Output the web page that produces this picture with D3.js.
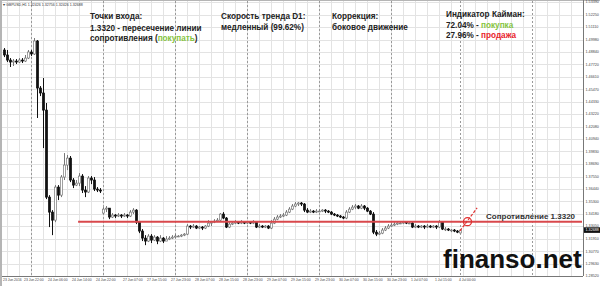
<!DOCTYPE html>
<html><head><meta charset="utf-8">
<script src="https://cdn.jsdelivr.net/npm/d3@7"></script>
<style>body{margin:0;background:#fff}svg{display:block}</style>
</head><body><svg id="c" width="600" height="286"></svg>
<script>
// ---------- DATA ----------
const symbolInfo = "GBPUSD,H1  1.32426 1.32756 1.32426 1.32688";
const opens = [1.4903,1.4858,1.4812,1.4794,1.4803,1.4794,1.4812,1.4803,1.4830,1.4885,
1.4867,1.4985,1.4558,1.4513,1.4358,1.3568,1.3432,1.3359,1.3659,1.3586,
1.3750,1.3859,1.3922,1.3723,1.3677,1.3695,1.3759,1.3632,1.3614,1.3741,
1.3723,1.3641,1.3632,1.3423,1.3459,1.3468,1.3387,1.3405,1.3396,1.3405,
1.3396,1.3405,1.3396,1.3432,1.3450,1.3341,1.3260,1.3196,1.3169,1.3214,
1.3178,1.3205,1.3169,1.3196,1.3169,1.3187,1.3196,1.3205,1.3214,1.3214,
1.3223,1.3232,1.3305,1.3296,1.3305,1.3287,1.3296,1.3287,1.3305,1.3332,
1.3341,1.3350,1.3359,1.3414,1.3378,1.3296,1.3323,1.3332,1.3341,1.3332,
1.3341,1.3332,1.3341,1.3332,1.3341,1.3296,1.3305,1.3296,1.3305,1.3287,
1.3332,1.3368,1.3387,1.3396,1.3405,1.3432,1.3459,1.3487,1.3505,1.3514,
1.3505,1.3450,1.3432,1.3441,1.3432,1.3441,1.3441,1.3450,1.3441,1.3432,
1.3414,1.3405,1.3396,1.3387,1.3378,1.3432,1.3459,1.3477,1.3487,1.3468,
1.3487,1.3468,1.3441,1.3414,1.3250,1.3232,1.3241,1.3269,1.3287,1.3305,
1.3314,1.3323,1.3332,1.3332,1.3341,1.3332,1.3332,1.3296,1.3305,1.3296,
1.3305,1.3296,1.3305,1.3296,1.3305,1.3296,1.3341,1.3278,1.3278,1.3269,
1.3269,1.3260,1.32426];
const highs = [1.4921,1.4903,1.4830,1.4821,1.4821,1.4830,1.4830,1.4858,1.4903,1.4903,
1.5012,1.4994,1.4576,1.4649,1.4422,1.3586,1.3450,1.3677,1.3677,1.3768,
1.3968,1.3950,1.3941,1.3741,1.3723,1.3786,1.3777,1.3668,1.3759,1.3759,
1.3750,1.3659,1.3650,1.3477,1.3487,1.3468,1.3423,1.3414,1.3423,1.3414,
1.3423,1.3414,1.3450,1.3468,1.3459,1.3350,1.3278,1.3223,1.3232,1.3232,
1.3223,1.3214,1.3223,1.3205,1.3214,1.3214,1.3223,1.3232,1.3223,1.3232,
1.3241,1.3323,1.3314,1.3323,1.3314,1.3305,1.3305,1.3314,1.3359,1.3350,
1.3368,1.3378,1.3423,1.3432,1.3387,1.3341,1.3350,1.3359,1.3350,1.3359,
1.3350,1.3350,1.3350,1.3359,1.3350,1.3323,1.3314,1.3314,1.3314,1.3359,
1.3387,1.3405,1.3414,1.3423,1.3450,1.3477,1.3505,1.3523,1.3523,1.3523,
1.3514,1.3468,1.3459,1.3450,1.3459,1.3459,1.3459,1.3459,1.3450,1.3441,
1.3423,1.3414,1.3405,1.3396,1.3450,1.3477,1.3496,1.3505,1.3496,1.3505,
1.3496,1.3477,1.3450,1.3432,1.3269,1.3260,1.3287,1.3305,1.3323,1.3332,
1.3341,1.3341,1.3350,1.3350,1.3350,1.3341,1.3341,1.3323,1.3314,1.3314,
1.3314,1.3323,1.3314,1.3314,1.3314,1.3359,1.3350,1.3296,1.3287,1.3278,
1.3278,1.3269,1.32756];
const lows = [1.4839,1.4794,1.4749,1.4758,1.4776,1.4785,1.4785,1.4794,1.4821,1.4849,
1.4858,1.4286,1.4485,1.4013,1.3550,1.3296,1.3223,1.3341,1.3541,1.3568,
1.3723,1.3813,1.3704,1.3650,1.3668,1.3668,1.3605,1.3568,1.3605,1.3686,
1.3623,1.3614,1.3605,1.3414,1.3432,1.3368,1.3378,1.3378,1.3387,1.3378,
1.3387,1.3378,1.3387,1.3414,1.3323,1.3241,1.3169,1.3132,1.3160,1.3151,
1.3169,1.3141,1.3160,1.3151,1.3169,1.3178,1.3187,1.3196,1.3205,1.3205,
1.3214,1.3223,1.3278,1.3287,1.3278,1.3278,1.3269,1.3278,1.3296,1.3305,
1.3332,1.3341,1.3350,1.3368,1.3287,1.3287,1.3314,1.3323,1.3323,1.3323,
1.3323,1.3323,1.3323,1.3323,1.3287,1.3287,1.3287,1.3287,1.3278,1.3278,
1.3323,1.3359,1.3378,1.3387,1.3396,1.3423,1.3450,1.3477,1.3487,1.3487,
1.3432,1.3423,1.3423,1.3423,1.3423,1.3432,1.3432,1.3423,1.3423,1.3405,
1.3396,1.3387,1.3378,1.3368,1.3368,1.3423,1.3450,1.3459,1.3459,1.3459,
1.3450,1.3432,1.3405,1.3232,1.3214,1.3223,1.3232,1.3260,1.3278,1.3296,
1.3305,1.3314,1.3323,1.3323,1.3323,1.3323,1.3287,1.3287,1.3287,1.3287,
1.3278,1.3287,1.3287,1.3287,1.3278,1.3287,1.3269,1.3260,1.3260,1.3250,
1.3250,1.3241,1.32426];
const closes = [1.4858,1.4812,1.4794,1.4803,1.4794,1.4812,1.4803,1.4830,1.4885,1.4867,
1.4985,1.4558,1.4513,1.4358,1.3568,1.3432,1.3359,1.3659,1.3586,1.3750,
1.3859,1.3922,1.3723,1.3677,1.3695,1.3759,1.3632,1.3614,1.3741,1.3723,
1.3641,1.3632,1.3623,1.3459,1.3468,1.3387,1.3405,1.3396,1.3405,1.3396,
1.3405,1.3396,1.3432,1.3450,1.3341,1.3260,1.3196,1.3169,1.3214,1.3178,
1.3205,1.3169,1.3196,1.3169,1.3187,1.3196,1.3205,1.3214,1.3214,1.3223,
1.3232,1.3305,1.3296,1.3305,1.3287,1.3296,1.3287,1.3305,1.3332,1.3341,
1.3350,1.3359,1.3414,1.3378,1.3296,1.3323,1.3332,1.3341,1.3332,1.3341,
1.3332,1.3341,1.3332,1.3341,1.3296,1.3305,1.3296,1.3305,1.3287,1.3332,
1.3368,1.3387,1.3396,1.3405,1.3432,1.3459,1.3487,1.3505,1.3514,1.3505,
1.3450,1.3432,1.3441,1.3432,1.3441,1.3441,1.3450,1.3441,1.3432,1.3414,
1.3405,1.3396,1.3387,1.3378,1.3432,1.3459,1.3477,1.3487,1.3468,1.3487,
1.3468,1.3441,1.3414,1.3250,1.3232,1.3241,1.3269,1.3287,1.3305,1.3314,
1.3323,1.3332,1.3332,1.3341,1.3332,1.3332,1.3296,1.3305,1.3296,1.3305,
1.3296,1.3305,1.3296,1.3305,1.3296,1.3341,1.3278,1.3278,1.3269,1.3269,
1.3260,1.3250,1.32688];

const priceTickLabels = ["1.53390","1.52250","1.51110","1.49980","1.48840","1.47720","1.46610","1.45470",
"1.44330","1.43220","1.42080","1.40940","1.39830","1.38690","1.37550","1.36440","1.35300","1.34180",
"1.33050","1.31910","1.30770","1.29630","1.28520"];
const timeTickLabels = ["23 Jun 2016","23 Jun 22:00","24 Jun 06:00","24 Jun 14:00","24 Jun 22:00",
"27 Jun 07:00","27 Jun 15:00","27 Jun 23:00","28 Jun 07:00","28 Jun 15:00","28 Jun 23:00",
"29 Jun 07:00","29 Jun 15:00","29 Jun 23:00","30 Jun 07:00","30 Jun 15:00","30 Jun 23:00",
"1 Jul 07:00","1 Jul 15:00","4 Jul 00:00"];
const timeTickBars = [0,7,15,23,31,40,48,56,64,72,80,88,96,104,112,120,128,136,144,152];
const daySeparatorBars = [9,33,57,81,105,129,152,176];

const resistanceLevel = 1.3345;       // where the red line is drawn
const resistanceFromBar = 24.7;
const resistanceLabel = "Сопротивление 1.3320";
const entryBar = 154.5;
const entryLineBars = [152, 157.7];
const entryLinePrices = [1.3262, 1.3470];
const currentPrice = 1.32688;

// ---------- LAYOUT ----------
const svg = d3.select("#c");
const W = 600, H = 286;
const plotL = 2, plotR = 583, plotT = 1, plotB = 276;
const FONT = "Liberation Sans, Arial, sans-serif";
const x = d3.scaleLinear().domain([0, 152]).range([4, 460]);
const y = d3.scaleLinear().domain([1.28520, 1.53390]).range([276, 2]);
const xMaxBar = x.invert(plotR);

svg.append("rect").attr("width", W).attr("height", H).attr("fill", "#fff");

// grid
const grid = svg.append("g");
priceTickLabels.forEach(t => {
  const yy = Math.round(y(+t)) + 0.5;
  grid.append("line").attr("x1", plotL).attr("x2", plotR).attr("y1", yy).attr("y2", yy)
    .attr("stroke", "#e3e3e3").attr("stroke-width", 1);
});
d3.range(1, Math.floor(xMaxBar) + 1, 4).forEach(b => {
  const xx = Math.round(x(b)) + 0.5;
  grid.append("line").attr("x1", xx).attr("x2", xx).attr("y1", plotT).attr("y2", plotB)
    .attr("stroke", "#e3e3e3").attr("stroke-width", 1);
});
daySeparatorBars.forEach(b => {
  const xx = Math.round(x(b)) + 0.5;
  grid.append("line").attr("x1", xx).attr("x2", xx).attr("y1", plotT).attr("y2", plotB)
    .attr("stroke", "#9a9a9a").attr("stroke-width", 1).attr("stroke-dasharray", "2,2");
});

// frame
svg.append("rect").attr("x", 0).attr("y", 0).attr("width", 2).attr("height", H).attr("fill", "#b5b5b5");
svg.append("line").attr("x1", 0).attr("x2", W).attr("y1", 0.5).attr("y2", 0.5).attr("stroke", "#b5b5b5");
svg.append("line").attr("x1", plotR + 0.5).attr("x2", plotR + 0.5).attr("y1", 0).attr("y2", plotB)
  .attr("stroke", "#777");
svg.append("line").attr("x1", plotL).attr("x2", plotR).attr("y1", plotB + 0.5).attr("y2", plotB + 0.5)
  .attr("stroke", "#777");

// candles
const candles = svg.append("g");
closes.forEach((c, i) => {
  const o = opens[i], h = highs[i], l = lows[i];
  const cx = Math.round(x(i));
  const up = c >= o;
  candles.append("line").attr("x1", cx + 0.5).attr("x2", cx + 0.5)
    .attr("y1", y(h)).attr("y2", y(l)).attr("stroke", up ? "#777" : "#111").attr("stroke-width", 1);
  const top = y(Math.max(o, c)), bot = y(Math.min(o, c));
  candles.append("rect").attr("x", cx - 0.6).attr("width", 2.2)
    .attr("y", top).attr("height", Math.max(0.8, bot - top))
    .attr("fill", up ? "#fff" : "#111")
    .attr("stroke", up ? "#777" : "#111").attr("stroke-width", 0.7);
});

// resistance line
svg.append("line").attr("x1", x(resistanceFromBar)).attr("x2", plotR - 1)
  .attr("y1", y(resistanceLevel)).attr("y2", y(resistanceLevel))
  .attr("stroke", "#d9484c").attr("stroke-width", 2);
svg.append("text").attr("x", 486).attr("y", 219).text(resistanceLabel)
  .attr("font-family", FONT).attr("font-weight", "bold")
  .attr("font-size", 8).attr("fill", "#333");

// entry marker
svg.append("line").attr("x1", x(entryLineBars[0])).attr("y1", y(entryLinePrices[0]))
  .attr("x2", x(entryLineBars[1])).attr("y2", y(entryLinePrices[1]))
  .attr("stroke", "#e03030").attr("stroke-width", 1.2).attr("stroke-dasharray", "3,1.5");
svg.append("circle").attr("cx", x(entryBar)).attr("cy", y(resistanceLevel)).attr("r", 4)
  .attr("fill", "none").attr("stroke", "#e03030").attr("stroke-width", 1.3);

// watermark (under the axis labels)
svg.append("text").attr("x", 443).attr("y", 268).text("finanso.net")
  .attr("font-family", FONT).attr("font-weight", "bold")
  .attr("font-size", 26).attr("fill", "#111");

// axis labels
priceTickLabels.forEach(t => {
  svg.append("text").attr("x", 585.5).attr("y", y(+t) + 1.3).text(t)
    .attr("font-family", FONT).attr("font-size", 3.7).attr("fill", "#444");
});
timeTickLabels.forEach((t, k) => {
  svg.append("text").attr("x", x(timeTickBars[k]) - 1).attr("y", 281.3).text(t)
    .attr("font-family", FONT).attr("font-size", 3.4).attr("fill", "#444");
});
// current price box
svg.append("rect").attr("x", 584).attr("y", y(currentPrice) - 2.8).attr("width", 16).attr("height", 5.6).attr("fill", "#111");
svg.append("text").attr("x", 585.5).attr("y", y(currentPrice) + 1.3).text(currentPrice.toFixed(5))
  .attr("font-family", FONT).attr("font-size", 3.7).attr("fill", "#fff");

// info line
svg.append("text").attr("x", 3).attr("y", 6).text("▾ " + symbolInfo)
  .attr("font-family", FONT).attr("font-size", 3.6).attr("fill", "#333");

// annotations
const green = "#86c440", red = "#e8232b", dark = "#222";
const blocks = [
  {x: 90, lines: [[19.3, [["Точки входа:", dark]]],
                  [31.3, [["1.3320 - пересечение линии", dark]]],
                  [41, [["сопротивления (", dark], ["покупать", green], [")", dark]]]]},
  {x: 221, lines: [[18.6, [["Скорость тренда D1:", dark]]],
                   [30.3, [["медленный (99.62%)", dark]]]]},
  {x: 332, lines: [[18.6, [["Коррекция:", dark]]],
                   [30.3, [["боковое движение", dark]]]]},
  {x: 446, lines: [[16.6, [["Индикатор Кайман:", dark]]],
                   [28.3, [["72.04% - ", dark], ["покупка", green]]],
                   [38.3, [["27.96% - ", dark], ["продажа", red]]]]}
];
blocks.forEach(b => {
  b.lines.forEach(([yy, parts]) => {
    const t = svg.append("text").attr("x", b.x).attr("y", yy)
      .attr("font-family", FONT).attr("font-weight", "bold")
      .attr("font-size", 8.2);
    parts.forEach(([s, col]) => t.append("tspan").attr("fill", col).text(s));
  });
});
</script></body></html>
